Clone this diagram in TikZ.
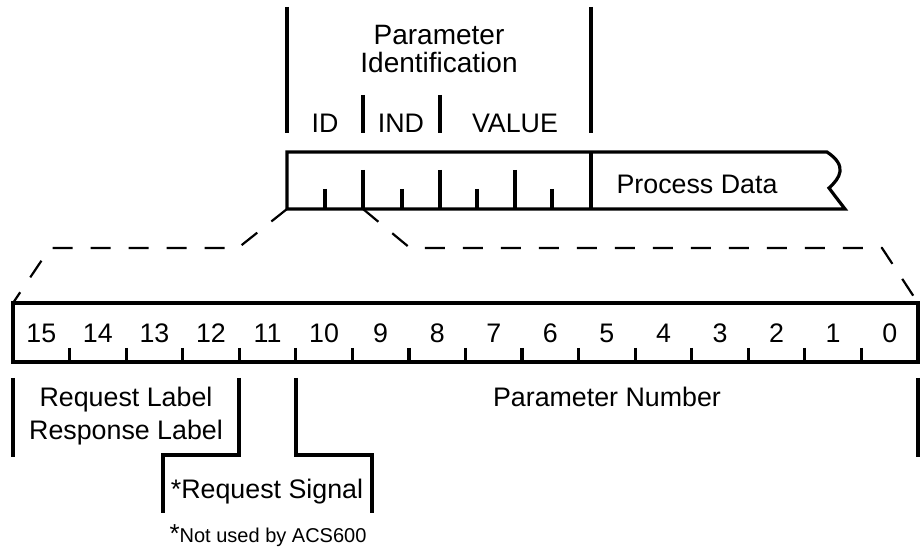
\documentclass[tikz,border=0pt]{standalone}
\usepackage{fontspec}
\setmainfont{Liberation Sans}
\usetikzlibrary{positioning}

\begin{document}
\begin{tikzpicture}[x=0.5pt,y=-0.5pt,
    frame/.style={line width=1.6pt},
    guide/.style={line width=1.1pt,dash pattern=on 10pt off 9pt},
    lbl/.style={font=\fontsize{13.4}{16}\selectfont,inner sep=0pt,anchor=base},
    note/.style={font=\fontsize{10}{12}\selectfont,inner sep=0pt,anchor=base}]
    \useasboundingbox (0,0) rectangle (921,555);

    % Parameter word with process data
    \coordinate (pid-nw) at (287,152);
    \coordinate (pid-sw) at (287,209);
    \coordinate (pid-m) at (363,209);
    \coordinate (pd-ne) at (827,152);
    \coordinate (pd-se) at (845,209);
    \draw[frame] (pid-sw) -- (pid-nw) -- (pd-ne)
        .. controls (848,166) and (840,178) .. (829,188)
        .. controls (835,196) .. (pd-se) -- cycle;
    \foreach \x in {363,440,515}
        \draw[frame] (\x,170) -- (\x,209);
    \foreach \x in {325,402,477,552}
        \draw[frame] (\x,189) -- (\x,209);
    \draw[frame] (591,152) -- (591,209);
    \node[lbl] (pd) at (697,194) {Process Data};

    % Labels above the parameter word
    \draw[frame] (287,7) -- (287,133);
    \draw[frame] (591,7) -- (591,133);
    \draw[frame] (363,95) -- (363,133);
    \draw[frame] (440,95) -- (440,133);
    \node[lbl,font=\fontsize{14}{16}\selectfont] (pname) at (439,45) {Parameter};
    \node[lbl,font=\fontsize{14}{16}\selectfont] (pident) at (439,73) {Identification};
    \node[lbl] (id) at (325,133) {ID};
    \node[lbl] (ind) at (401,133) {IND};
    \node[lbl] (val) at (515,133) {VALUE};

    % 16 bit register
    \coordinate (reg-nw) at (13,303);
    \coordinate (reg-se) at (918,362);
    \coordinate (reg-ne) at (918,303);
    \draw[frame] (reg-nw) rectangle (reg-se);
    \foreach \i in {1,...,15}
        \draw[frame] ({13+56.5625*\i},348) -- ({13+56.5625*\i},362);
    \foreach \i in {0,...,15} {
        \pgfmathtruncatemacro\bit{15-\i}
        \node[lbl] (bit\bit) at ({13+56.5625*(\i+0.5)},343) {\bit};
    }

    % Zoom lines
    \draw[guide] (pid-sw) -- (238,248) -- (50,248) -- (reg-nw);
    \draw[guide] (pid-m) -- (410,248) -- (882,248) -- (reg-ne);

    % Field brackets below
    \draw[frame] (13,378) -- (13,457);
    \draw[frame] (918,378) -- (918,457);
    \draw[frame] (239,378) -- (239,455) -- (163,455) -- (163,513);
    \draw[frame] (296,378) -- (296,455) -- (372,455) -- (372,513);
    \node[lbl] (req) at (126,407) {Request Label};
    \node[lbl] (resp) at (126,440) {Response Label};
    \node[lbl] (pnum) at (607,407) {Parameter Number};
    \node[lbl] (sig) at (267,498) {*Request Signal};
    \node[note] (acs) at (268,542) {{\fontsize{13}{13}\selectfont *}Not used by ACS600};
\end{tikzpicture}
\end{document}
